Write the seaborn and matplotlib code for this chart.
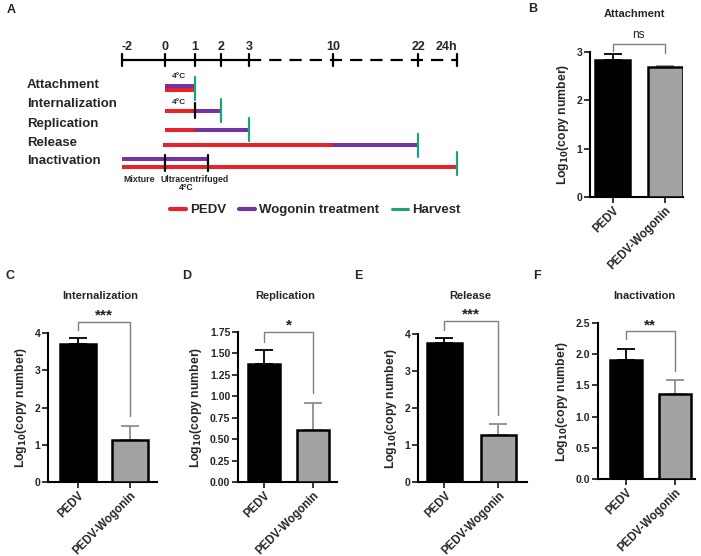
import numpy as np
import pandas as pd
import matplotlib
matplotlib.use("Agg")
import matplotlib.pyplot as plt
import matplotlib.transforms as mtransforms
from matplotlib.lines import Line2D
import seaborn as sns

sns.set_theme(style="ticks")
plt.rcParams['font.family'] = ['Liberation Sans', 'DejaVu Sans']
plt.rcParams['font.weight'] = 'bold'
plt.rcParams['axes.labelweight'] = 'bold'

# ---------------- data ----------------
groups = ['PEDV', 'PEDV-Wogonin']
attach_mean = [2.84, 2.68]
attach_sem = [0.12, 0.03]
intern_mean = [3.71, 1.12]
intern_sem = [0.15, 0.37]
repl_mean = [1.38, 0.61]
repl_sem = [0.16, 0.31]
release_mean = [3.77, 1.26]
release_sem = [0.11, 0.32]
inact_mean = [1.91, 1.37]
inact_sem = [0.17, 0.21]

sig_labels = ['ns', '***', '*', '***', '**']
# bracket level, left leg end, right leg end (data units)
bracket_attach = [3.17, 3.02, 2.98]
bracket_intern = [4.30, 4.08, 1.76]
bracket_repl = [1.75, 1.63, 1.04]
bracket_release = [4.35, 4.10, 1.82]
bracket_inact = [2.37, 2.24, 1.73]

# timeline (panel A)
tl_hours = [-2, 0, 1, 2, 3, 10, 22, 24]
tl_labels = ['-2', '0', '1', '2', '3', '10', '22', '24h']
stages = ['Attachment', 'Internalization', 'Replication', 'Release', 'Inactivation']
# segments: (stage index, kind, start h, end h, lane)
segments = [
    (0, 'Wogonin', 0, 1, 'upper'), (0, 'PEDV', 0, 1, 'lower'),
    (1, 'PEDV', 0, 1, 'single'), (1, 'Wogonin', 1, 2, 'single'),
    (2, 'PEDV', 0, 1, 'single'), (2, 'Wogonin', 1, 3, 'single'),
    (3, 'PEDV', -0.1, 10, 'single'), (3, 'Wogonin', 10, 22, 'single'),
    (4, 'Wogonin', -2, 1.5, 'upper'), (4, 'PEDV', -2, 24, 'lower'),
]
harvest_h = [1, 2, 3, 22, 24]
markers = [(1, 1), (4, 0), (4, 1.5)]   # (stage, hour) black switch marks

# ---------------- layout ----------------
W, H = 701, 556
fig = plt.figure(figsize=(W / 100, H / 100), dpi=100)

def px_axes(l, r, t, b):
    return fig.add_axes([l / W, 1 - b / H, (r - l) / W, (b - t) / H])

RED = '#e4232b'
PURPLE = '#7434a0'
GREEN = '#19a57c'
GRAY = '#a1a1a6'

# ---------- Panel A ----------
tick_offsets = [0, 43, 73, 99, 127, 211, 296, 335]
ax_a = px_axes(122, 457, 0, 290)
ax_a.set_xscale('function', functions=(lambda h: np.interp(h, tl_hours, tick_offsets),
                                       lambda p: np.interp(p, tick_offsets, tl_hours)))
ax_a.set_xlim(-2, 24)
ax_a.set_ylim(290, 0)
ax_a.axis('off')

axis_y = 60
ax_a.plot([-2, 3], [axis_y, axis_y], color='black', lw=1.6, solid_capstyle='butt', clip_on=False)
ax_a.plot([3, 24], [axis_y, axis_y], color='black', lw=1.6, dashes=(5.5, 3.6), clip_on=False)
for h, lab in zip(tl_hours, tl_labels):
    ax_a.plot([h, h], [axis_y - 6, axis_y + 6], color='black', lw=1.6, clip_on=False)
    ha = 'left' if h == tl_hours[0] else ('right' if h == tl_hours[-1] else 'center')
    ax_a.text(h, axis_y - 7, lab, ha=ha, va='bottom', fontsize=9, fontweight='bold', clip_on=False)

row_y = [88, 110.5, 129.5, 145, 163]
lane_off = {'upper': -2.3, 'lower': 2.3, 'single': 0}
col = {'PEDV': RED, 'Wogonin': PURPLE}
for si, kind, s, e, lane in segments:
    y = row_y[si] + lane_off[lane]
    if si == 4 and lane != 'single':
        y = row_y[si] + (-4 if lane == 'upper' else 4)
    ax_a.plot([s, e], [y, y], color=col[kind], lw=2.9, solid_capstyle='butt', clip_on=False)
for si, h in enumerate(harvest_h):
    half = 11.5
    ax_a.plot([h, h], [row_y[si] - half, row_y[si] + half], color=GREEN, lw=1.6, clip_on=False)
for si, h in markers:
    half = 7.5 if si == 1 else 8
    ax_a.plot([h, h], [row_y[si] - half, row_y[si] + half], color='black', lw=1.6, clip_on=False,
              zorder=5)

lab_tr = mtransforms.blended_transform_factory(fig.transFigure, ax_a.transData)
label_y = [85, 104, 124.5, 143, 161]
for name, y in zip(stages, label_y):
    ax_a.text(27 / W, y, name, transform=lab_tr, ha='left', va='center', fontsize=9.5,
              fontweight='bold')

ax_a.text(0.47, 76.5, '4°C', ha='center', va='center', fontsize=6, fontweight='bold')
ax_a.text(0.47, 102.5, '4°C', ha='center', va='center', fontsize=6, fontweight='bold')
ax_a.text(-1.2, 179, 'Mixture', ha='center', va='center', fontsize=6.3, fontweight='bold')
ax_a.text(1.0, 179, 'Ultracentrifuged', ha='center', va='center', fontsize=6.3, fontweight='bold')
ax_a.text(0.7, 187, '4°C', ha='center', va='center', fontsize=6.3, fontweight='bold')

handles = [Line2D([], [], color=RED, lw=3),
           Line2D([], [], color=PURPLE, lw=3),
           Line2D([], [], color=GREEN, lw=2.2)]
fig.legend(handles, ['PEDV', 'Wogonin treatment', 'Harvest'], loc='center left',
           bbox_to_anchor=(170 / W, 1 - 210 / H), ncol=3, frameon=False,
           handlelength=1.2, handletextpad=0.3, columnspacing=1.0,
           prop={'size': 9.5, 'weight': 'bold'}, borderaxespad=0, borderpad=0)

# ---------- Bar panels ----------
panels = [
    dict(title='Attachment', mean=attach_mean, sem=attach_sem, sig=sig_labels[0],
         br=bracket_attach, box=(590, 683, 52, 197), ylim=3, ticks=[0, 1, 2, 3], fmt='{:.0f}',
         xlim=(-0.43, 1.34), title_y=14, width=0.67),
    dict(title='Internalization', mean=intern_mean, sem=intern_sem, sig=sig_labels[1],
         br=bracket_intern, box=(48, 157, 333, 482), ylim=4, ticks=[0, 1, 2, 3, 4], fmt='{:.0f}',
         xlim=(-0.58, 1.52), title_y=296, width=0.68),
    dict(title='Replication', mean=repl_mean, sem=repl_sem, sig=sig_labels[2],
         br=bracket_repl, box=(238, 337, 332, 482), ylim=1.75,
         ticks=[0, 0.25, 0.5, 0.75, 1.0, 1.25, 1.5, 1.75], fmt='{:.2f}',
         xlim=(-0.54, 1.5), title_y=296, width=0.66),
    dict(title='Release', mean=release_mean, sem=release_sem, sig=sig_labels[3],
         br=bracket_release, box=(418, 527, 334, 482), ylim=4, ticks=[0, 1, 2, 3, 4], fmt='{:.0f}',
         xlim=(-0.49, 1.53), title_y=296, width=0.66),
    dict(title='Inactivation', mean=inact_mean, sem=inact_sem, sig=sig_labels[4],
         br=bracket_inact, box=(598, 695, 323, 479), ylim=2.5,
         ticks=[0, 0.5, 1.0, 1.5, 2.0, 2.5], fmt='{:.1f}',
         xlim=(-0.57, 1.41), title_y=296, width=0.67),
]

for p in panels:
    l, r, t, b = p['box']
    ax = px_axes(l, r, t, b)
    df = pd.DataFrame({'group': groups, 'value': p['mean']})
    sns.barplot(data=df, x='group', y='value', hue='group', palette=['black', GRAY],
                edgecolor='black', linewidth=1.8, width=p['width'], legend=False, ax=ax,
                zorder=3)
    err_colors = ['black', '#8d8d92']
    for i in range(2):
        ax.errorbar(i, p['mean'][i], yerr=[[0], [p['sem'][i]]], fmt='none',
                    ecolor=err_colors[i], elinewidth=1.3, capsize=6.5, capthick=1.3,
                    zorder=2, clip_on=False)
    ax.set_xlim(*p['xlim'])
    ax.set_ylim(0, p['ylim'])
    ax.set_yticks(p['ticks'])
    ax.set_yticklabels([p['fmt'].format(v) for v in p['ticks']])
    ax.set_xlabel('')
    ax.set_ylabel('Log$_{\\mathbf{10}}$(copy number)', fontsize=8.8, fontweight='bold', labelpad=4)
    ax.tick_params(axis='y', labelsize=7.5, width=1.3, length=4, pad=1.5)
    ax.tick_params(axis='x', labelsize=8.3, width=1.3, length=4, pad=1.5)
    for lab in ax.get_xticklabels():
        lab.set_rotation(45)
        lab.set_ha('right')
        lab.set_rotation_mode('anchor')
        lab.set_fontweight('bold')
    for lab in ax.get_yticklabels():
        lab.set_fontweight('bold')
    sns.despine(ax=ax)
    for s in ['left', 'bottom']:
        ax.spines[s].set_linewidth(1.5)
        ax.spines[s].set_color('black')
    by, le, re = p['br']
    ax.plot([0, 0, 1, 1], [le, by, by, re], color='#7f7f7f', lw=1.0, clip_on=False, zorder=4)
    if p['sig'] == 'ns':
        ax.annotate('ns', xy=(0.5, by), xytext=(0, 4), textcoords='offset points',
                    ha='center', va='baseline', fontsize=8.5, fontweight='normal',
                    color='#222222', annotation_clip=False)
    else:
        ax.annotate(p['sig'], xy=(0.5, by), xytext=(0, 1.5), textcoords='offset points',
                    ha='center', va='baseline', fontsize=11, fontweight='bold',
                    color='#222222', annotation_clip=False)
    fig.text((l + r) / 2 / W - 2 / W, 1 - p['title_y'] / H, p['title'], ha='center',
             va='center', fontsize=8, fontweight='bold')

# panel letters
for letter, (x, y) in zip('ABCDEF', [(7, 10), (528, 9), (6, 276), (182, 276), (354, 276), (533, 276)]):
    fig.text(x / W, 1 - y / H, letter, ha='left', va='center', fontsize=9, fontweight='bold')

fig.savefig('out.png', dpi=100)
